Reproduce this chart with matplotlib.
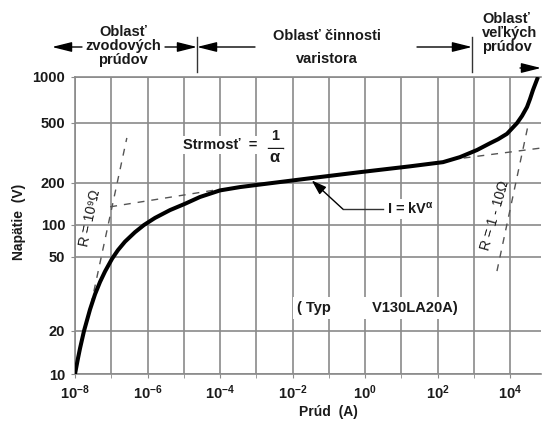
import numpy as np
import matplotlib
matplotlib.use('Agg')
import matplotlib.pyplot as plt
from matplotlib.lines import Line2D

plt.rcParams['font.family'] = ['Liberation Sans', 'DejaVu Sans']
plt.rcParams['mathtext.fontset'] = 'custom'
plt.rcParams['mathtext.rm'] = 'Liberation Sans:bold'
plt.rcParams['mathtext.bf'] = 'Liberation Sans:bold'
plt.rcParams['mathtext.it'] = 'Liberation Serif:italic'
plt.rcParams['mathtext.default'] = 'rm'

# ---------------- data ----------------
curve_log_current = [-8.0, -7.917, -7.862, -7.752, -7.586, -7.448, -7.310, -7.172,
                     -6.979, -6.814, -6.621, -6.345, -6.097, -5.793, -5.379, -4.966,
                     -4.552, -4.0, -3.448, -2.897, -1.517, -0.138, 1.241, 2.152,
                     2.62, 3.09, 3.448, 3.669, 3.917, 4.193, 4.331, 4.469,
                     4.552, 4.634, 4.717, 4.772]
curve_voltage = [10, 12.9, 15.1, 20, 26.1, 31.5, 36.7, 41.8,
                 48.9, 58.1, 69.7, 85.6, 100, 112.4, 127.9, 141.9,
                 158.8, 177, 187, 195, 215, 236, 258, 275,
                 297, 331, 367, 390, 424, 499, 556, 636,
                 718, 822, 925, 1000]

r_high_log_current = [-7.56, -6.57]      # R = 10^9 ohm line
r_high_voltage = [27.6, 398]
slope_left_log_current = [-7.03, -4.14]  # tangent, low end
slope_left_voltage = [135, 178]
slope_right_log_current = [2.34, 4.85]   # tangent, high end
slope_right_voltage = [285, 341]
r_low_log_current = [3.64, 4.50]         # R = 1-10 ohm line
r_low_voltage = [42, 485]

x_tick_exponents = [-8, -6, -4, -2, 0, 2, 4]
x_minor_exponents = [-7, -5, -3, -1, 1, 3]
y_ticks = [10, 20, 50, 100, 200, 500, 1000]
y_tick_labels = ['10', '20', '50', '100', '200', '500', '1000']

# ---------------- non-uniform vertical axis of the reference ----------------
Y_AXIS_PX = np.array([0, 43, 117, 149, 191, 251, 297], float)  # pixel height of each tick
_lt = np.log10(np.array(y_ticks, float))
_lt_ext = np.concatenate([[_lt[0] - 2], _lt, [_lt[-1] + 2]])
_pp_ext = np.concatenate([[Y_AXIS_PX[0] - 2 * (Y_AXIS_PX[1] - Y_AXIS_PX[0]) / (_lt[1] - _lt[0])],
                          Y_AXIS_PX,
                          [Y_AXIS_PX[-1] + 2 * (Y_AXIS_PX[-1] - Y_AXIS_PX[-2]) / (_lt[-1] - _lt[-2])]])


def fwd(v):
    v = np.asarray(v, float)
    lv = np.log10(np.where(v > 0, v, 1e-30))
    return np.interp(lv, _lt_ext, _pp_ext)


def inv(p):
    p = np.asarray(p, float)
    return 10 ** np.interp(p, _pp_ext, _lt_ext)


W, H = 542, 425
fig = plt.figure(figsize=(W / 100, H / 100), dpi=100)
ax = fig.add_axes([75 / W, 51 / H, 466 / W, 297 / H])
ax.set_xscale('log')
ax.set_yscale('function', functions=(fwd, inv))
ax.set_xlim(1e-8, 10 ** 4.855)
ax.set_ylim(10, 1000)

GRID = '#8a8a8a'
TXT = '#1a1a1a'

ax.set_xticks([10.0 ** e for e in x_tick_exponents])
ax.set_xticklabels([r'$10^{%d}$' % e for e in x_tick_exponents])
ax.set_xticks([10.0 ** e for e in x_minor_exponents], minor=True)
ax.set_xticklabels([], minor=True)
ax.set_yticks(y_ticks)
ax.set_yticklabels(y_tick_labels)
ax.yaxis.set_minor_locator(matplotlib.ticker.NullLocator())
ax.grid(True, which='both', color=GRID, lw=1.2)
ax.tick_params(axis='both', which='both', length=3, color=GRID, labelcolor=TXT)
ax.tick_params(axis='x', which='both', pad=4, labelsize=10.5)
ax.tick_params(axis='y', pad=4, labelsize=10.5)
for lab in ax.get_yticklabels():
    lab.set_fontweight('bold')
for s in ['left', 'top', 'bottom']:
    ax.spines[s].set_color(GRID)
    ax.spines[s].set_linewidth(1.2)
ax.spines['right'].set_visible(False)

# dashed construction lines
cur = lambda e: [10.0 ** v for v in e]
dkw = dict(color='#555555', lw=1.0, ls=(0, (5, 5)))
ax.plot(cur(r_high_log_current), r_high_voltage, **dkw)
ax.plot(cur(slope_left_log_current), slope_left_voltage, **dkw)
ax.plot(cur(slope_right_log_current), slope_right_voltage, **dkw)
ax.plot(cur(r_low_log_current), r_low_voltage, **dkw)

# main curve
ax.plot(cur(curve_log_current), curve_voltage, color='black', lw=2.9,
        solid_joinstyle='round', solid_capstyle='butt', zorder=5)

# I = kV^alpha annotation (leader)
ax.plot([10 ** -0.61, 10 ** 0.50], [130, 130], color='#333333', lw=1.0, zorder=4)
ax.annotate('', xy=(10 ** -1.47, 208), xytext=(10 ** -0.61, 130),
            arrowprops=dict(arrowstyle='-|>,head_length=0.9,head_width=0.3',
                            color='black', lw=1.0, shrinkA=0, shrinkB=0), zorder=6)


def ftext(x, y, s, **kw):
    kw.setdefault('color', TXT)
    return fig.text(x / W, 1 - y / H, s, **kw)


WB = dict(facecolor='white', edgecolor='none', pad=1.5)
ftext(387, 209, r'I = kV$^{\alpha}$', fontsize=10.5, fontweight='bold',
      ha='left', va='center', bbox=WB)
ftext(183, 145, 'Strmosť  =', fontsize=10.5, fontweight='bold', ha='left', va='center', bbox=WB)
ftext(275, 136, '1', fontsize=10.5, fontweight='bold', ha='center', va='center', bbox=WB)
ftext(275, 158, r'$\alpha$', fontsize=12, ha='center', va='center', bbox=WB)
fig.add_artist(Line2D([268 / W, 283 / W], [1 - 148 / H, 1 - 148 / H], color=TXT, lw=1.0))
ftext(297, 308, '( Typ          V130LA20A)', fontsize=10.5, fontweight='bold',
      ha='left', va='center', bbox=dict(facecolor='white', edgecolor='none', pad=3))
ftext(90, 218, 'R = 10⁹Ω', fontsize=10, rotation=78, ha='center', va='center',
      rotation_mode='anchor')
ftext(495, 215, 'R = 1 - 10Ω', fontsize=10, rotation=74, ha='center', va='center',
      rotation_mode='anchor')

# axis labels
ftext(19, 222, 'Napätie  (V)', fontsize=10, fontweight='bold', rotation=90,
      ha='center', va='center')
ftext(328, 412, 'Prúd  (A)', fontsize=10, fontweight='bold', ha='center', va='center')

# header: regions
ftext(123, 46, 'Oblasť\nzvodových\nprúdov', fontsize=10.5, fontweight='bold',
      ha='center', va='center', linespacing=1.0)
ftext(327, 36, 'Oblasť činnosti', fontsize=10.5, fontweight='bold', ha='center', va='center')
ftext(327, 59, 'varistora', fontsize=10.5, fontweight='bold', ha='center', va='center')
ftext(482, 33, 'Oblasť\nveľkých\nprúdov', fontsize=10.5, fontweight='bold',
      ha='left', va='center', linespacing=1.0)


def harrow(x0, x1, y):
    ax.annotate('', xy=(x1, H - y), xytext=(x0, H - y), xycoords='figure pixels',
                textcoords='figure pixels', annotation_clip=False,
                arrowprops=dict(arrowstyle='-|>,head_length=1.2,head_width=0.3',
                                color='black', lw=1.0, shrinkA=0, shrinkB=0))


harrow(82, 52, 47)
harrow(165, 197, 47)
harrow(255, 197, 47)
harrow(417, 472, 47)
harrow(520, 541, 68)
for xs in (197, 472):
    fig.add_artist(Line2D([xs / W, xs / W], [1 - 37 / H, 1 - 72 / H], color='#333333', lw=1.0))

fig.savefig('out.png', dpi=100)
